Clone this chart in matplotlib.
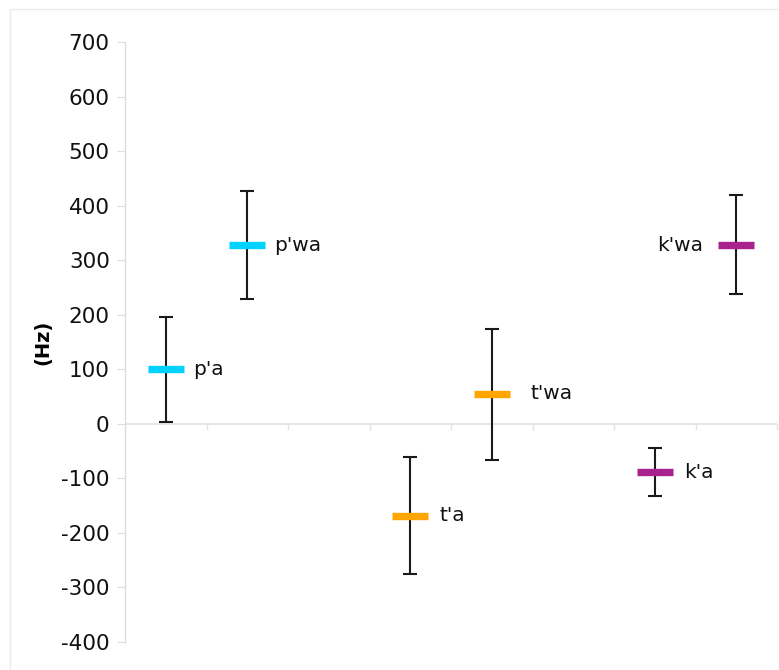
import matplotlib
matplotlib.use("Agg")
import matplotlib.pyplot as plt
from matplotlib.patches import Rectangle

# Data
labels = ["p'a", "p'wa", "", "t'a", "t'wa", "", "k'a", "k'wa"]
values = [100, 328, None, -168, 55, None, -89, 328]
upper = [197, 427, None, -60, 174, None, -45, 420]
lower = [4, 229, None, -276, -66, None, -132, 238]
colors = ["#00D2FF", "#00D2FF", None, "#FFA500", "#FFA500", None, "#A8228E", "#A8228E"]
label_dx = [27, 27, 0, 29, 39, 0, 29, -33]  # offsets in pixels
yticks = list(range(-400, 701, 100))

fig = plt.figure(figsize=(7.79, 6.70), dpi=100)
W, H = 779, 670
ax = fig.add_axes([125 / W, 1 - 642 / H, (777 - 125) / W, (642 - 42.3) / H])

# outer faint frame
fig.patches.append(Rectangle((10 / W, -0.01), 1.0, 1 - 9 / H + 0.01, transform=fig.transFigure,
                             fill=False, edgecolor="#ebebeb", linewidth=1))

n = len(labels)
ax.set_xlim(0, n)
ax.set_ylim(-400, 700)

for i in range(n):
    if values[i] is None:
        continue
    x = i + 0.5
    ax.errorbar([x], [values[i]], yerr=[[values[i] - lower[i]], [upper[i] - values[i]]],
                fmt="none", ecolor="#1a1a1a", elinewidth=1.5, capsize=5, capthick=1.5, zorder=2)
    ax.plot([x], [values[i]], marker="_", markersize=26, markeredgewidth=5.3,
            color=colors[i], linestyle="none", zorder=3)
    dx = label_dx[i] * 0.72
    ax.annotate(labels[i], (x, values[i]), xytext=(dx, 0), textcoords="offset points",
                ha="left" if dx > 0 else "right", va="center", fontsize=14.5, color="#111111")

# spines / axes
for s in ["top", "right", "bottom"]:
    ax.spines[s].set_visible(False)
ax.spines["left"].set_color("#dddddd")
ax.spines["left"].set_linewidth(1)
ax.axhline(0, color="#e3e3e3", linewidth=1.2, zorder=1)
for k in range(1, n + 1):
    ax.plot([k, k], [0, -10], color="#e3e3e3", linewidth=1, zorder=1, clip_on=False)

ax.set_yticks(yticks)
ax.set_yticklabels([str(t) for t in yticks], fontsize=15.5, color="#111111")
ax.tick_params(axis="y", length=6, color="#dddddd", pad=5)
ax.set_xticks([])
ax.set_ylabel("(Hz)", fontsize=14, fontweight="bold", labelpad=6)

fig.savefig("out.png", dpi=100, facecolor="white")
